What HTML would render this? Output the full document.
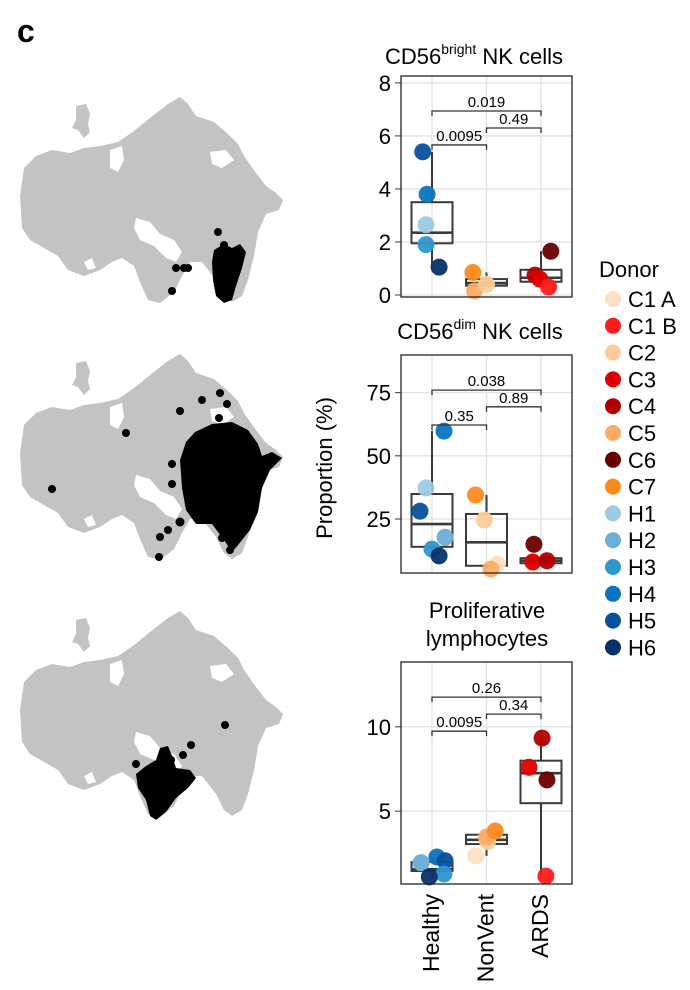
<!DOCTYPE html>
<html><head><meta charset="utf-8">
<style>
html,body{margin:0;padding:0;background:#fff;}
svg{display:block;font-family:"Liberation Sans",Arial,sans-serif;}
</style></head>
<body>
<svg id="fig" width="690" height="990" viewBox="0 0 690 990" xmlns="http://www.w3.org/2000/svg">
  <defs>
    <g id="umap-shape">
      <path fill="#c3c3c3" d="M20,196 L24,168 L36,156 L52,150 L70,153 L84,148 L100,146 L118,142 L134,131 L150,118 L168,104 L180,97 L188,104 L196,116 L214,122 L228,134 L238,144 L244,156 L256,173 L266,186 L276,193 L283,200 L279,210 L266,214 L258,232 L254,256 L248,280 L242,296 L232,302 L224,296 L216,280 L202,262 L190,262 L182,276 L174,292 L160,303 L148,300 L140,282 L134,266 L122,258 L112,262 L100,270 L84,276 L68,270 L58,256 L44,248 L30,240 L22,228 Z"/>
      <path fill="#c3c3c3" d="M76,106 L86,104 L90,114 L88,124 L90,132 L84,138 L78,130 L72,128 L76,120 Z"/>
      <path fill="#fff" d="M136,218 L150,222 L160,234 L174,240 L182,252 L176,262 L166,258 L154,246 L140,240 L134,228 Z"/>
      <path fill="#fff" d="M110,150 L122,146 L124,160 L118,172 L110,168 Z"/>
      <path fill="#fff" d="M210,152 L226,150 L234,160 L222,168 L212,164 Z"/>
      <path fill="#fff" d="M84,262 L92,258 L96,268 L88,270 Z"/>
    </g>
  </defs>

  <text x="17" y="42" font-size="32" font-weight="bold" fill="#000">c</text>

  <g>
    <use href="#umap-shape"/>
    <path fill="#000" d="M214,250 L224,244 L232,248 L240,244 L246,252 L242,268 L236,286 L232,300 L224,303 L216,296 L213,280 L212,262 Z"/>
    <circle cx="218" cy="232" r="4"/><circle cx="224" cy="245" r="4"/>
    <circle cx="176" cy="268" r="4"/><circle cx="184" cy="268" r="4"/><circle cx="188" cy="268" r="4"/>
    <circle cx="172" cy="291" r="4"/>
  </g>
  <g transform="translate(0,257)">
    <use href="#umap-shape"/>
  </g>
  <g>
    <path fill="#000" d="M195,432 L212,424 L232,422 L248,430 L258,444 L262,456 L272,452 L282,458 L270,470 L262,488 L258,512 L250,530 L238,545 L232,552 L224,540 L212,524 L196,524 L186,510 L182,488 L180,460 L186,442 Z"/>
    <g fill="#000">
    <circle cx="52" cy="489" r="4"/><circle cx="126" cy="433" r="4"/><circle cx="180" cy="411" r="4"/>
    <circle cx="220" cy="393" r="4"/><circle cx="202" cy="400" r="4"/><circle cx="227" cy="404" r="4"/>
    <circle cx="219" cy="418" r="4"/><circle cx="172" cy="464" r="4"/><circle cx="172" cy="484" r="4"/>
    <circle cx="160" cy="537" r="4"/><circle cx="168" cy="530" r="4"/><circle cx="159" cy="557" r="4"/>
    <circle cx="222" cy="538" r="4"/><circle cx="230" cy="550" r="4"/><circle cx="180" cy="522" r="4.5"/>
    </g>
  </g>
  <g transform="translate(0,514)">
    <use href="#umap-shape"/>
  </g>
  <g fill="#000">
    <path d="M160,748 L168,746 L172,756 L176,768 L190,770 L196,778 L188,788 L176,798 L166,812 L156,820 L150,816 L146,800 L138,788 L136,774 L146,766 L156,760 Z"/>
    <circle cx="225" cy="725" r="4"/><circle cx="191" cy="745" r="4"/><circle cx="183" cy="755" r="4"/>
    <circle cx="136" cy="764" r="4"/><circle cx="171" cy="760" r="4"/>
  </g>

  <g id="charts"></g>

  <text transform="translate(332,468) rotate(-90)" text-anchor="middle" font-size="22" fill="#000">Proportion (%)</text>

  <g id="legend">
    <text x="599" y="277" font-size="22" fill="#000">Donor</text>
  </g>
</svg>
<script>
// ---------- data ----------
const categories = ["Healthy", "NonVent", "ARDS"];
const donors = ["C1 A","C1 B","C2","C3","C4","C5","C6","C7","H1","H2","H3","H4","H5","H6"];
const donorColors = ["#fde0c5","#fb1c1c","#fdcb99","#de0000","#b10000","#fdab66","#6b0000","#fd8a1e","#9ecae1","#6baed6","#2f96d0","#0a74c0","#08519c","#08306b"];

// panel 1: CD56bright
const p1Donor = ["H5","H4","H1","H3","H6","C7","C5","C2","C6","C4","C3","C1 B"];
const p1Group = [0,0,0,0,0,1,1,1,2,2,2,2];
const p1Value = [5.4,3.8,2.65,1.9,1.05,0.85,0.15,0.4,1.65,0.75,0.6,0.3];
const p1Jitter = [-0.17,-0.09,-0.11,-0.11,0.13,-0.25,-0.22,0.0,0.18,-0.11,-0.02,0.14];
const p1Box = [[1.05,1.95,2.35,3.5,5.4],[0.3,0.35,0.45,0.6,0.85],[0.45,0.5,0.65,0.95,1.65]];
const p1Brackets = [[0,1,5.66,"0.0095"],[1,2,6.3,"0.49"],[0,2,6.94,"0.019"]];
const p1Ticks = [0,2,4,6,8];

// panel 2: CD56dim
const p2Donor = ["H4","H1","H5","H2","H3","H6","C7","C2","C1 A","C5","C6","C3","C4"];
const p2Group = [0,0,0,0,0,0,1,1,1,1,2,2,2];
const p2Value = [59.8,37.3,28.1,17.8,13.1,10.4,34.5,24.6,7.2,5.2,15,8,8.5];
const p2Jitter = [0.22,-0.11,-0.22,0.24,0.0,0.13,-0.2,-0.04,0.2,0.08,-0.13,-0.15,0.11];
const p2Box = [[10.4,14,23,34.9,59.8],[5.2,6.5,15.8,27,34.5],[7.5,7.5,8.5,9.5,9.5]];
const p2Brackets = [[0,1,62.2,"0.35"],[1,2,69.4,"0.89"],[0,2,76,"0.038"]];
const p2Ticks = [25,50,75];

// panel 3: Proliferative lymphocytes
const p3Donor = ["H1","H2","H4","H5","H3","H6","C1 A","C2","C5","C7","C4","C3","C6","C1 B"];
const p3Value = [1.95,1.94,2.28,2.06,1.27,1.1,2.35,3.2,3.46,3.82,9.33,7.6,6.85,1.15];
const p3Group = [0,0,0,0,0,0,1,1,1,1,2,2,2,2];
const p3Jitter = [-0.2,-0.2,0.09,0.24,0.22,-0.05,-0.2,0.02,0.0,0.16,0.02,-0.22,0.11,0.09];
const p3Box = [[1.1,1.45,1.55,1.98,2.28],[2.35,3.05,3.3,3.6,3.82],[1.15,5.47,7.25,7.99,9.33]];
const p3Brackets = [[0,1,9.74,"0.0095"],[1,2,10.75,"0.34"],[0,2,11.76,"0.26"]];
const p3Ticks = [5,10];

// ---------- drawing ----------
const NS = "http://www.w3.org/2000/svg";
const root = document.getElementById("charts");
function mk(tag, attrs, parent){
  const e = document.createElementNS(NS, tag);
  for (const k in attrs) e.setAttribute(k, attrs[k]);
  parent.appendChild(e);
  return e;
}
const plotLeft = 401, plotRight = 572;
function xScale(i){ return 432 + i*54.5; }

function drawPanel(cfg){
  const g = mk("g", {}, root);
  
  
  const y = v => cfg.top + (cfg.vmax - v) / (cfg.vmax - cfg.vmin) * (cfg.bottom - cfg.top);
  cfg.ticks.forEach(t => {
    const ln = mk("line", {x1:plotLeft, x2:plotRight, y1:y(t), y2:y(t), stroke:"#e2e2e2", "stroke-width":1.3}, g);
    
    
  });
  categories.forEach((c,i) => {
    const ln = mk("line", {x1:xScale(i), x2:xScale(i), y1:cfg.top, y2:cfg.bottom, stroke:"#e2e2e2", "stroke-width":1.3}, g);
    
    
  });
  cfg.ticks.forEach(t => {
    const tk = mk("line", {x1:plotLeft-6, x2:plotLeft, y1:y(t), y2:y(t), stroke:"#333", "stroke-width":1}, g);
    
    
    const tx = mk("text", {x:plotLeft-10, y:y(t)+8, "text-anchor":"end", "font-size":22, fill:"#000"}, g);
    tx.textContent = t;
    
    
  });
  cfg.box.forEach((b,i) => {
    const bg = mk("g", {stroke:"#3a3a3a", "stroke-width":2, fill:"none"}, g);
    
    
    const cx = xScale(i), w = 20.5;
    mk("line", {x1:cx, x2:cx, y1:y(b[0]), y2:y(b[1])}, bg);
    mk("line", {x1:cx, x2:cx, y1:y(b[3]), y2:y(b[4])}, bg);
    mk("rect", {x:cx-w, y:y(b[3]), width:2*w, height:Math.max(1,y(b[1])-y(b[3]))}, bg);
    mk("line", {x1:cx-w, x2:cx+w, y1:y(b[2]), y2:y(b[2]), "stroke-width":2.6}, bg);
  });
  cfg.values.forEach((v,k) => {
    const d = cfg.donor[k];
    const col = donorColors[donors.indexOf(d)];
    const c = mk("circle", {cx:xScale(cfg.group[k] + cfg.jitter[k]), cy:y(v), r:8.5, fill:col, "fill-opacity":0.95}, g);
    
    
  });
  cfg.brackets.forEach(br => {
    const bg = mk("g", {}, g);
    
    
    const x1 = xScale(br[0]), x2 = xScale(br[1]), yy = y(br[2]);
    mk("path", {d:`M${x1},${yy+5} L${x1},${yy} L${x2},${yy} L${x2},${yy+5}`, stroke:"#333", "stroke-width":1.3, fill:"none"}, bg);
    const t = mk("text", {x:(x1+x2)/2, y:yy-4, "text-anchor":"middle", "font-size":15, fill:"#000"}, bg);
    t.textContent = br[3];
  });
  const fr = mk("rect", {x:plotLeft, y:cfg.top, width:plotRight-plotLeft, height:cfg.bottom-cfg.top, fill:"none", stroke:"#222", "stroke-width":1.3}, g);
  
  
}

drawPanel({name:"chart-cd56bright", top:76, bottom:297, vmin:-0.076, vmax:8.26, ticks:p1Ticks,
  donor:p1Donor, group:p1Group, values:p1Value, jitter:p1Jitter, box:p1Box, brackets:p1Brackets});
drawPanel({name:"chart-cd56dim", top:355, bottom:573, vmin:3.64, vmax:89.9, ticks:p2Ticks,
  donor:p2Donor, group:p2Group, values:p2Value, jitter:p2Jitter, box:p2Box, brackets:p2Brackets});
drawPanel({name:"chart-proliferative", top:662, bottom:884, vmin:0.68, vmax:13.84, ticks:p3Ticks,
  donor:p3Donor, group:p3Group, values:p3Value, jitter:p3Jitter, box:p3Box, brackets:p3Brackets});

function title(y, cx, name){
  const t = mk("text", {x:cx, y:y, "text-anchor":"middle", "font-size":22, fill:"#000"}, root);
  
  
  return t;
}
const t1 = title(64, 474, "title-cd56bright");
t1.innerHTML = 'CD56<tspan font-size="14" dy="-10">bright</tspan><tspan dy="10"> NK cells</tspan>';
const t2 = title(339, 480, "title-cd56dim");
t2.innerHTML = 'CD56<tspan font-size="14" dy="-10">dim</tspan><tspan dy="10"> NK cells</tspan>';
const t3 = title(617, 487, "title-proliferative");
t3.innerHTML = '<tspan x="487" y="618">Proliferative</tspan><tspan x="487" y="646">lymphocytes</tspan>';

categories.forEach((c,i) => {
  const t = mk("text", {transform:`translate(${xScale(i)+7},894) rotate(-90)`, "text-anchor":"end", "font-size":23, fill:"#000"}, root);
  t.textContent = c;
  
  
});

const lg = document.getElementById("legend");
donors.forEach((d,i) => {
  const yy = 299 + i*26.8;
  const e = mk("g", {}, lg);
  
  
  mk("circle", {cx:613, cy:yy, r:8, fill:donorColors[i]}, e);
  const t = mk("text", {x:628, y:yy+8, "font-size":22, fill:"#000"}, e);
  t.textContent = d;
});
</script>
</body></html>
